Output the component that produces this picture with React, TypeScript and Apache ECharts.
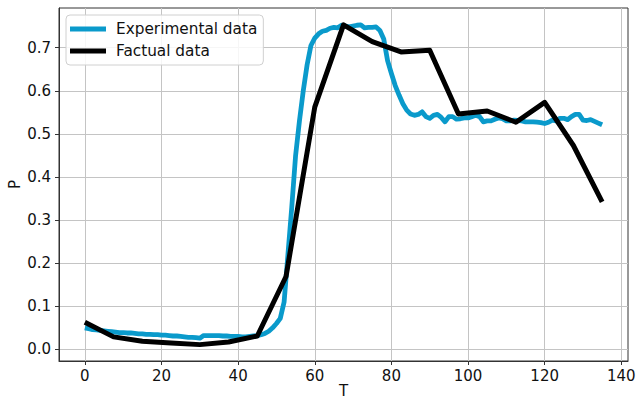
import React, { useEffect, useRef } from "react";
import * as echarts from "echarts";

const blueT = [
  0, 1, 2, 3, 4, 5, 6, 7, 8, 9, 10, 11, 12, 13, 14, 15, 16, 17, 18, 19,
  20, 21, 22, 23, 24, 25, 26, 27, 28, 29, 30, 31, 32, 33, 34, 35, 36, 37, 38, 39,
  40, 41, 42, 43, 44, 45, 46, 47, 48, 49, 50, 51, 52, 53, 54, 55, 56, 57, 58, 59,
  60, 61, 62, 63, 64, 65, 66, 67, 68, 69, 70, 71, 72, 73, 74, 75, 76, 77, 78, 79,
  80, 81, 82, 83, 84, 85, 86, 87, 88, 89, 90, 91, 92, 93, 94, 95, 96, 97, 98, 99,
  100, 101, 102, 103, 104, 105, 106, 107, 108, 109, 110, 111, 112, 113, 114, 115, 116, 117, 118, 119,
  120, 121, 122, 123, 124, 125, 126, 127, 128, 129, 130, 131, 132, 133, 134, 135,
];
const blueP = [
  0.05, 0.048, 0.046, 0.045, 0.044, 0.043, 0.042, 0.041, 0.04, 0.039,
  0.039, 0.038, 0.038, 0.037, 0.036, 0.036, 0.035, 0.035, 0.034, 0.034,
  0.033, 0.033, 0.032, 0.031, 0.031, 0.03, 0.029, 0.028, 0.028, 0.027,
  0.026, 0.032, 0.032, 0.032, 0.032, 0.032, 0.031, 0.031, 0.03, 0.03,
  0.03, 0.029, 0.029, 0.03, 0.031, 0.032, 0.034, 0.037, 0.042, 0.05,
  0.06, 0.072, 0.11, 0.22, 0.33, 0.45, 0.53, 0.6, 0.66, 0.705,
  0.722, 0.732, 0.738, 0.74, 0.745, 0.747, 0.746, 0.752, 0.75, 0.748,
  0.75, 0.752, 0.753, 0.746, 0.747, 0.747, 0.748, 0.74, 0.72, 0.67,
  0.64, 0.612, 0.59, 0.57, 0.555, 0.546, 0.543, 0.545, 0.551, 0.54,
  0.536, 0.543, 0.545, 0.538, 0.528, 0.54, 0.54, 0.534, 0.535, 0.537,
  0.537, 0.54, 0.543, 0.54, 0.528, 0.53, 0.53, 0.534, 0.537, 0.535,
  0.53, 0.53, 0.532, 0.531, 0.53, 0.528, 0.528, 0.528, 0.527, 0.526,
  0.524, 0.527, 0.532, 0.53, 0.536, 0.536, 0.533, 0.54, 0.545, 0.545,
  0.532, 0.531, 0.533, 0.529, 0.525, 0.521,
];
const blackT = [0, 7.5, 15, 22.5, 30, 37.5, 45, 52.5, 60, 67.5, 75, 82.5, 90, 97.5, 105, 112.5, 120, 127.5, 135];
const blackP = [
  0.063, 0.029, 0.019, 0.015, 0.011, 0.017, 0.031, 0.169, 0.562, 0.753,
  0.714, 0.69, 0.694, 0.546, 0.553, 0.527, 0.573, 0.473, 0.342,
];
const seriesNames = ["Experimental data", "Factual data"];
const xTicks = [0, 20, 40, 60, 80, 100, 120, 140];
const yTicks = [0, 0.1, 0.2, 0.3, 0.4, 0.5, 0.6, 0.7];

const FONT = "DejaVu Sans";

export default function App() {
  const ref = useRef<HTMLDivElement>(null);
  useEffect(() => {
    if (!ref.current) return;
    const chart = echarts.init(ref.current, null, { renderer: "svg" });
    chart.setOption({
      animation: false,
      backgroundColor: "#fff",
      grid: {
        left: 59,
        right: 8,
        top: 8,
        bottom: 39,
        outerBoundsMode: "none",
        containLabel: false,
        show: true,
        borderColor: "#333",
        borderWidth: 1,
      },
      legend: {
        left: 66,
        top: 15,
        orient: "vertical",
        itemWidth: 36,
        itemHeight: 5,
        itemGap: 4,
        padding: [5, 6, 5, 4],
        borderColor: "#d0d0d0",
        borderWidth: 1,
        borderRadius: 4,
        backgroundColor: "rgba(255,255,255,0.85)",
        textStyle: { fontFamily: FONT, fontSize: 15.3, color: "#111", lineHeight: 18, padding: [0, 0, 0, 5] },
        data: [
          { name: seriesNames[0], icon: "rect" },
          { name: seriesNames[1], icon: "rect" },
        ],
      },
      xAxis: {
        type: "value",
        min: -6.75,
        max: 141.75,
        name: "T",
        nameLocation: "middle",
        nameGap: 22,
        nameMoveOverlap: false,
        nameTextStyle: { fontFamily: FONT, fontSize: 15, color: "#111", lineHeight: 15 },
        axisLine: { show: true, onZero: false, lineStyle: { color: "#333", width: 1 } },
        axisTick: { show: true, length: 4, lineStyle: { color: "#333" }, customValues: xTicks },
        axisLabel: {
          fontFamily: FONT,
          fontSize: 15,
          color: "#111",
          margin: 7,
          customValues: xTicks,
          formatter: (v: number) => String(v),
        },
        splitLine: { show: true, lineStyle: { color: "#c4c4c4", width: 1 } },
      },
      yAxis: {
        type: "value",
        min: -0.027,
        max: 0.792,
        name: "P",
        nameLocation: "middle",
        nameGap: 37,
        nameMoveOverlap: false,
        nameTextStyle: { fontFamily: FONT, fontSize: 15, color: "#111" },
        axisLine: { show: true, onZero: false, lineStyle: { color: "#333", width: 1 } },
        axisTick: { show: true, length: 4, lineStyle: { color: "#333" }, customValues: yTicks },
        axisLabel: {
          fontFamily: FONT,
          fontSize: 15,
          color: "#111",
          margin: 8,
          customValues: yTicks,
          formatter: (v: number) => v.toFixed(1),
        },
        splitLine: { show: true, lineStyle: { color: "#c4c4c4", width: 1 } },
      },
      series: [
        {
          name: seriesNames[0],
          type: "line",
          data: blueT.map((t, i) => [t, blueP[i]]),
          showSymbol: false,
          color: "#0a9acb",
          lineStyle: { width: 4.8, color: "#0a9acb", join: "round" },
          z: 2,
        },
        {
          name: seriesNames[1],
          type: "line",
          data: blackT.map((t, i) => [t, blackP[i]]),
          showSymbol: false,
          color: "#000",
          lineStyle: { width: 5, color: "#000", join: "round" },
          z: 3,
        },
      ],
    });
    return () => chart.dispose();
  }, []);
  return <div ref={ref} style={{ width: 636, height: 400, position: "absolute", left: 0, top: 0 }} />;
}
